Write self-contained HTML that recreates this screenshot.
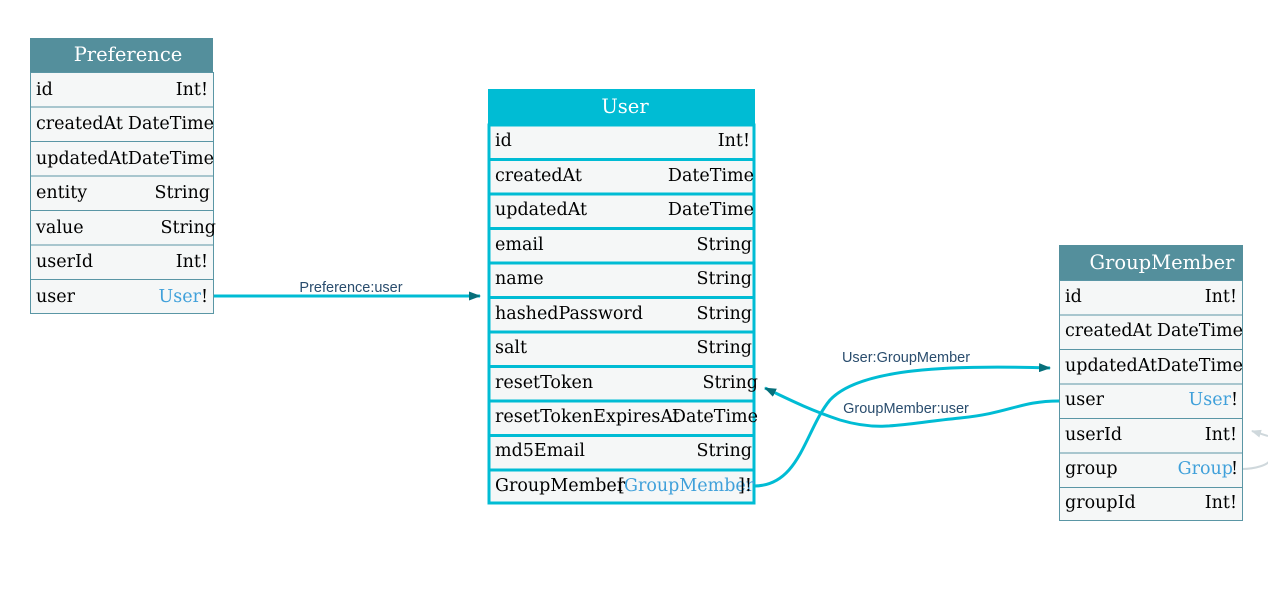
<!DOCTYPE html>
<html><head><meta charset="utf-8"><style>
html,body{margin:0;padding:0;background:#fff;}
svg text{font-family:"DejaVu Serif","Liberation Serif",serif;font-size:17.5px;}
.l{font-family:"Liberation Sans",sans-serif;font-size:14.5px;fill:#2a4d6e;}
</style></head><body>
<svg width="1268" height="584" viewBox="0 0 1268 584" xmlns="http://www.w3.org/2000/svg">
<defs>
<marker id="a" markerWidth="12" markerHeight="9" refX="11" refY="4.5" orient="auto" markerUnits="userSpaceOnUse"><path d="M0,0 L12,4.5 L0,9 z" fill="#066f7a"/></marker>
<marker id="g" markerWidth="10" markerHeight="8" refX="9" refY="4" orient="auto" markerUnits="userSpaceOnUse"><path d="M0,0 L10,4 L0,8 z" fill="#cfd8dc"/></marker>
</defs>
<path d="M213,296 L480,296" stroke="#00bcd4" stroke-width="3" fill="none" marker-end="url(#a)"/>
<text class="l" x="351" y="292" text-anchor="middle">Preference:user</text>
<path d="M754,486 C800,486 805,430 830,400 C860,368 950,365 1050,368" stroke="#00bcd4" stroke-width="3" fill="none" marker-end="url(#a)"/>
<text class="l" x="906" y="362" text-anchor="middle">User:GroupMember</text>
<path d="M1059,401 C1020,401 1010,413 960,418 C900,424 880,432 840,420 C810,410 790,400 765,388" stroke="#00bcd4" stroke-width="3" fill="none" marker-end="url(#a)"/>
<text class="l" x="906" y="413" text-anchor="middle">GroupMember:user</text>
<path d="M1242,469 C1255,469 1268,465 1270,460" stroke="#cfd8dc" stroke-width="2" fill="none"/>
<path d="M1268,436 L1252,431" stroke="#cfd8dc" stroke-width="2" fill="none" marker-end="url(#g)"/>

<g>
<rect x="30" y="38" width="183" height="34" fill="#548f9c"/>
<text x="128" y="61" text-anchor="middle" fill="#fff" style="font-size:19.5px">Preference</text>
<g fill="#f5f7f7" stroke="#5a96a5" stroke-width="1">
<rect x="30.5" y="72.5" width="183" height="34.5"/><rect x="30.5" y="107" width="183" height="34.5"/>
<rect x="30.5" y="141.5" width="183" height="34.5"/><rect x="30.5" y="176" width="183" height="34.5"/>
<rect x="30.5" y="210.5" width="183" height="34.5"/><rect x="30.5" y="245" width="183" height="34.5"/>
<rect x="30.5" y="279.5" width="183" height="34"/>
</g>
<g fill="#000">
<text x="36" y="95">id</text><text x="208" y="95" text-anchor="end">Int!</text>
<text x="36" y="129">createdAt</text><text x="214" y="129" text-anchor="end">DateTime</text>
<text x="36" y="164">updatedAt</text><text x="214" y="164" text-anchor="end">DateTime</text>
<text x="36" y="198">entity</text><text x="210" y="198" text-anchor="end">String</text>
<text x="36" y="233">value</text><text x="216" y="233" text-anchor="end">String</text>
<text x="36" y="267">userId</text><text x="208" y="267" text-anchor="end">Int!</text>
<text x="36" y="302">user</text><text x="201" y="302" text-anchor="end" fill="#3fa0da">User</text><text x="208" y="302" text-anchor="end">!</text>
</g>
</g>

<g>
<rect x="488" y="89" width="267" height="35" fill="#00bcd4"/>
<text x="625" y="113" text-anchor="middle" fill="#fff" style="font-size:19.5px">User</text>
<g fill="#f5f7f7" stroke="#00bcd4" stroke-width="3">
<rect x="489" y="125" width="265" height="34.5"/><rect x="489" y="159.5" width="265" height="34.5"/>
<rect x="489" y="194" width="265" height="34.5"/><rect x="489" y="228.5" width="265" height="34.5"/>
<rect x="489" y="263" width="265" height="34.5"/><rect x="489" y="297.5" width="265" height="34.5"/>
<rect x="489" y="332" width="265" height="34.5"/><rect x="489" y="366.5" width="265" height="34.5"/>
<rect x="489" y="401" width="265" height="34.5"/><rect x="489" y="435.5" width="265" height="34.5"/>
<rect x="489" y="470" width="265" height="33"/>
</g>
<g fill="#000">
<text x="495" y="146">id</text><text x="750" y="146" text-anchor="end">Int!</text>
<text x="495" y="181">createdAt</text><text x="754" y="181" text-anchor="end">DateTime</text>
<text x="495" y="215">updatedAt</text><text x="754" y="215" text-anchor="end">DateTime</text>
<text x="495" y="250">email</text><text x="752" y="250" text-anchor="end">String</text>
<text x="495" y="284">name</text><text x="752" y="284" text-anchor="end">String</text>
<text x="495" y="319">hashedPassword</text><text x="752" y="319" text-anchor="end">String</text>
<text x="495" y="353">salt</text><text x="752" y="353" text-anchor="end">String</text>
<text x="495" y="388">resetToken</text><text x="758" y="388" text-anchor="end">String</text>
<text x="495" y="422">resetTokenExpiresAt</text><text x="758" y="422" text-anchor="end">DateTime</text>
<text x="495" y="456">md5Email</text><text x="752" y="456" text-anchor="end">String</text>
<text x="495" y="491">GroupMember</text><text x="618" y="491">[</text><text x="624" y="491" fill="#3fa0da">GroupMember</text><text x="738" y="491">]!</text>
</g>
</g>

<g>
<rect x="1059" y="245" width="184" height="35" fill="#548f9c"/>
<text x="1162" y="269" text-anchor="middle" fill="#fff" style="font-size:19.5px">GroupMember</text>
<g fill="#f5f7f7" stroke="#5a96a5" stroke-width="1">
<rect x="1059.5" y="280.5" width="183" height="34.5"/><rect x="1059.5" y="315" width="183" height="34.5"/>
<rect x="1059.5" y="349.5" width="183" height="34.5"/><rect x="1059.5" y="384" width="183" height="34.5"/>
<rect x="1059.5" y="418.5" width="183" height="34.5"/><rect x="1059.5" y="453" width="183" height="34.5"/>
<rect x="1059.5" y="487.5" width="183" height="33"/>
</g>
<g fill="#000">
<text x="1065" y="302">id</text><text x="1237" y="302" text-anchor="end">Int!</text>
<text x="1065" y="336">createdAt</text><text x="1243" y="336" text-anchor="end">DateTime</text>
<text x="1065" y="371">updatedAt</text><text x="1243" y="371" text-anchor="end">DateTime</text>
<text x="1065" y="405">user</text><text x="1231" y="405" text-anchor="end" fill="#3fa0da">User</text><text x="1238" y="405" text-anchor="end">!</text>
<text x="1065" y="440">userId</text><text x="1237" y="440" text-anchor="end">Int!</text>
<text x="1065" y="474">group</text><text x="1233" y="474" text-anchor="end" fill="#3fa0da">Group</text><text x="1238" y="474" text-anchor="end">!</text>
<text x="1065" y="508">groupId</text><text x="1237" y="508" text-anchor="end">Int!</text>
</g>
</g>
</svg>
</body></html>
